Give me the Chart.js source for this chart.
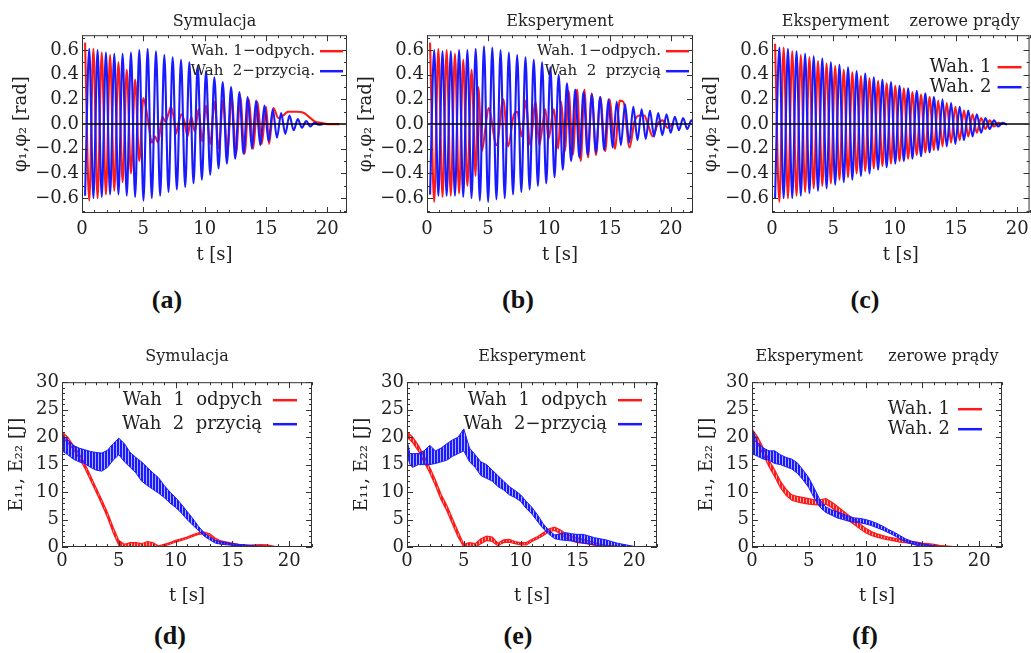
<!DOCTYPE html>
<html>
<head>
<meta charset="utf-8">
<script src="https://cdn.jsdelivr.net/npm/chart.js@4.4.1/dist/chart.umd.min.js"></script>
<style>
body { margin: 0; width: 1031px; height: 653px; overflow: hidden; background: #fff; position: relative; }
canvas { position: absolute; }
.lab { position: absolute; width: 60px; text-align: center; font: bold 26px "Liberation Serif"; color: #111; }
</style>
</head>
<body>
<canvas id="pa" width="350" height="270" style="left:0;top:0"></canvas>
<canvas id="pb" width="350" height="270" style="left:345px;top:0"></canvas>
<canvas id="pc" width="345" height="270" style="left:690px;top:0"></canvas>
<canvas id="pd" width="345" height="290" style="left:0;top:330px"></canvas>
<canvas id="pe" width="345" height="290" style="left:345px;top:330px"></canvas>
<canvas id="pf" width="341" height="290" style="left:690px;top:330px"></canvas>
<div class="lab" style="left:137px;top:285px">(a)</div>
<div class="lab" style="left:488px;top:285px">(b)</div>
<div class="lab" style="left:835px;top:285px">(c)</div>
<div class="lab" style="left:140px;top:621px">(d)</div>
<div class="lab" style="left:488px;top:621px">(e)</div>
<div class="lab" style="left:835px;top:621px">(f)</div>
<script>
// tick labels
const xTicks = [0, 5, 10, 15, 20];
const phiTicks = [-0.6, -0.4, -0.2, 0, 0.2, 0.4, 0.6];
const energyTicks = [0, 5, 10, 15, 20, 25, 30];

// angles: successive swing amplitudes (rad), sign alternates
const halfAB = 0.34, halfC = 0.35;
const blueA = [0.58,0.61,0.6,0.6,0.59,0.58,0.57,0.57,0.57,0.57,0.58,0.58,0.59,0.6,0.62,0.61,0.6,0.59,0.58,0.56,
  0.55,0.54,0.53,0.52,0.51,0.5,0.48,0.47,0.45,0.43,0.41,0.38,0.36,0.34,0.32,0.3,0.28,0.26,0.24,0.22,
  0.2,0.19,0.17,0.15,0.14,0.12,0.11,0.09,0.08,0.07,0.05,0.04,0.03,0.025,0.02,0.01,0.005,0];
const redA = [0.66,0.62,0.61,0.6,0.58,0.57,0.56,0.54,0.5,0.47,0.44,0.4,0.36,0.3];
const redATail = [[5.0,0.21],[5.35,0.05],[5.7,-0.15],[5.95,-0.1],[6.2,-0.15],[6.55,0.06],[6.8,0.02],[7.1,0.1],
  [7.25,0.14],[7.5,0.04],[7.65,-0.08],[7.85,0.0],[8.1,0.08],[8.35,0.02],[8.6,-0.1],[8.9,0.06],[9.2,-0.06],
  [9.5,0.12],[9.8,-0.14],[10.1,0.15],[10.45,-0.16],[10.8,0.18],[11.15,-0.2],[11.5,0.2],[11.85,-0.22],
  [12.2,0.22],[12.55,-0.24],[12.9,0.22],[13.25,-0.24],[13.6,0.2],[13.95,-0.2],[14.3,0.18],[14.65,-0.16],
  [15.0,0.14],[15.25,-0.16],[15.6,0.13],[16.0,0.05],[16.4,0.07],[16.8,0.1],[17.5,0.1],[18.1,0.09],
  [18.6,0.05],[19.0,0.02],[19.5,0.01],[20.0,0],[21.0,0]];

const blueB = [0.57,0.6,0.58,0.59,0.58,0.59,0.58,0.6,0.59,0.6,0.6,0.61,0.62,0.63,0.63,0.62,0.61,0.6,0.6,0.58,
  0.57,0.56,0.55,0.54,0.53,0.52,0.5,0.5,0.48,0.46,0.43,0.4,0.37,0.33,0.3,0.28,0.27,0.26,0.25,0.24,
  0.23,0.22,0.21,0.2,0.19,0.18,0.17,0.16,0.15,0.14,0.13,0.12,0.12,0.11,0.1,0.09,0.09,0.08,0.07,0.06,
  0.05,0.05,0.04,0.03,0.03];
const redB = [0.66,0.63,0.61,0.59,0.6,0.58,0.57,0.56,0.52,0.5,0.44,0.42];
const redBTail = [[4.2,0.3],[4.5,-0.22],[4.8,-0.02],[5.05,0.13],[5.7,-0.17],[6.25,0.2],[6.65,-0.18],[7.1,0.07],
  [7.4,0.1],[7.75,-0.1],[8.1,0.19],[8.45,-0.17],[8.9,0.18],[9.2,-0.17],[9.7,0.12],[9.95,-0.12],[10.4,0.12],
  [10.75,-0.2],[11.0,0.18],[11.3,-0.22],[11.6,0.27],[11.95,-0.25],[12.3,0.28],[12.6,-0.3],[12.9,0.28],
  [13.2,-0.27],[13.5,0.25],[13.85,-0.25],[14.2,0.22],[14.6,-0.22],[14.95,0.2],[15.4,-0.2],[15.8,0.19],
  [16.1,0.18],[16.6,-0.19],[17.0,0.02],[17.4,0.07],[17.8,0.07],[18.1,0.0],[18.5,-0.1],[18.9,0.0],
  [19.3,0.03],[19.7,-0.03],[20.2,0.0]];

const redC = [0.65,0.63,0.62,0.6,0.59,0.58,0.56,0.55,0.54,0.52,0.51,0.5,0.49,0.48,0.47,0.45,0.44,0.43,0.42,0.4,
  0.39,0.38,0.37,0.36,0.35,0.34,0.33,0.32,0.31,0.3,0.29,0.28,0.26,0.25,0.24,0.23,0.22,0.21,0.19,0.18,
  0.17,0.15,0.14,0.13,0.11,0.1,0.08,0.07,0.05,0.04,0.03,0.02,0.01,0];
const blueC = [0.6,0.62,0.6,0.61,0.6,0.59,0.58,0.57,0.56,0.55,0.54,0.53,0.52,0.5,0.49,0.48,0.47,0.46,0.45,0.43,
  0.42,0.41,0.4,0.38,0.37,0.36,0.35,0.34,0.32,0.31,0.3,0.29,0.28,0.27,0.26,0.25,0.23,0.22,0.21,0.2,
  0.18,0.17,0.16,0.14,0.13,0.11,0.1,0.08,0.07,0.05,0.04,0.03,0.02,0.01,0.005];

// energies: [t, upper edge, lower edge] of the noisy band, J
const blueD = [[0,20.5,17.5],[0.5,19.5,16.8],[1,18.5,16],[1.5,18,15.5],[2,17.7,15.2],[2.5,17.4,14.5],[3,17.2,14],
  [3.5,17.1,13.8],[4,17.6,14.5],[4.5,18.8,15.8],[5,19.8,16.8],[5.5,18.8,15.5],[6,17.2,14.5],[6.5,16.3,13.5],
  [7,15.5,12],[7.5,14.5,11.2],[8,13.5,10.5],[8.5,12.6,9.8],[9,11.2,9],[9.5,10,8],[10,9,7.2],[10.5,7.8,6.2],
  [11,6.5,5],[11.5,5.2,4],[12,3.8,3],[12.5,2.6,2],[13,1.8,1.3],[13.5,1.2,0.7],[14,1.0,0.5],[14.5,0.8,0.4],
  [15,0.6,0.3],[15.5,0.5,0.2],[16,0.4,0.15],[16.5,0.3,0.1],[17,0.2,0.05],[17.5,0.15,0.02],[18,0.1,0],
  [18.5,0.05,0],[19,0,0]];
const redD = [[0,21,20],[0.5,20,19],[1,18.5,17.8],[1.5,17,16.2],[2,15.2,14.4],[2.5,13,12.2],[3,10.8,10],
  [3.5,8.6,7.8],[4,6.3,5.4],[4.5,3.6,2.6],[5,1.2,0.3],[5.5,0.5,0],[6,0.8,0],[6.5,0.8,0],[7,0.6,0],[7.5,1,0.2],
  [8,0.8,0],[8.5,0.2,0],[9,0.5,0.2],[9.5,0.8,0.5],[10,1.2,0.9],[10.5,1.5,1.2],[11,1.8,1.5],[11.5,2.2,1.9],
  [12,2.6,2.3],[12.5,2.7,2.4],[13,2.4,2.1],[13.5,1.6,1.2],[14,1.1,0.8],[14.5,0.9,0.6],[15,0.7,0.4],
  [15.5,0.5,0.3],[16,0.4,0.2],[16.5,0.35,0.15],[17,0.4,0.2],[17.5,0.45,0.25],[18,0.4,0.2],[18.5,0.2,0.05],[19,0,0]];
const blueE = [[0,19.5,17],[0.25,17,15],[0.5,17,14.5],[1,17,15],[1.5,17.5,15],[2,18.5,15],[2.5,17.5,15.2],
  [3,18,15.5],[3.5,18.8,15.8],[4,19.5,16.5],[4.5,20,17],[5,21.5,17.5],[5.5,18,15.5],[6,16.8,14.5],[6.5,15.5,13],
  [7,15,12.5],[7.5,14,12],[8,13,11],[8.5,12,10.4],[9,11,9.5],[9.5,10.3,9],[10,9.5,8.3],[10.5,8.3,7],[11,7.2,6],
  [11.5,5.8,4.6],[12,4.2,3.3],[12.5,3,2.3],[13,2.2,1.5],[13.5,2.4,1.3],[14,2.6,1.2],[14.5,2.4,1.1],[15,2.3,0.9],
  [15.5,2.3,0.7],[16,2,0.6],[16.5,1.7,0.4],[17,1.5,0.2],[17.5,1.3,0.1],[18,1,0.05],[18.5,0.7,0],[19,0.5,0],
  [19.5,0.3,0],[20,0.1,0],[20.5,0,0]];
const redE = [[0,21,20],[0.5,20,19],[1,18.5,17.5],[1.5,16.5,15.5],[2,14.5,13.5],[2.5,12.2,11.2],[3,9.6,8.6],
  [3.5,7.6,6.6],[4,5.2,4.2],[4.5,2.8,1.8],[5,0.5,0],[5.5,0.8,0.1],[6,0.6,0],[6.5,1.5,0.6],[7,2,1.2],[7.5,1.8,1],
  [8,0.7,0.2],[8.5,1.3,0.8],[9,1.4,0.9],[9.5,1,0.6],[10,0.8,0.4],[10.5,0.8,0.4],[11,1.4,1],[11.5,1.9,1.5],
  [12,2.6,2.1],[12.5,3.3,2.8],[13,3.6,3],[13.5,3.1,2.4],[14,2.4,1.6],[14.5,1.9,1.1],[15,1.6,0.8],[15.5,1.4,0.7],
  [16,1.1,0.5],[16.5,0.8,0.3],[17,0.5,0.1],[17.5,0.3,0],[18,0.2,0],[18.5,0.1,0],[19,0,0]];
const blueF = [[0,21.5,17],[0.5,19,16.5],[1,18,16],[1.5,17.5,15.8],[2,17.5,15.2],[2.5,16.8,15],[3,16.3,14.6],
  [3.5,16,14.2],[4,15.3,13.4],[4.5,14,12.2],[5,12.6,10.8],[5.5,10.6,8.8],[6,8.5,7.2],[6.5,7.3,6.3],[7,6.8,5.8],
  [7.5,6.4,5.3],[8,6,5],[8.5,5.6,4.7],[9,5.3,4.5],[9.5,5.2,4.4],[10,5,4.2],[10.5,4.7,3.9],[11,4.3,3.5],
  [11.5,3.8,3.1],[12,3.2,2.6],[12.5,2.7,2.1],[13,2.1,1.5],[13.5,1.5,0.9],[14,1.1,0.6],[14.5,0.8,0.3],
  [15,0.6,0.1],[15.5,0.4,0.05],[16,0.25,0],[16.5,0.1,0],[17,0,0]];
const redF = [[0,21.5,20],[0.5,20,18.8],[1,18,16.8],[1.5,15.8,14.6],[2,14,12.8],[2.5,12,10.8],[3,10.5,9.4],
  [3.5,9.5,8.5],[4,9.2,8.2],[4.5,9,8],[5,8.8,7.8],[5.5,8.6,7.7],[6,8.6,7.6],[6.5,8.8,7.8],[7,8.2,7.2],
  [7.5,7.4,6.4],[8,6.6,5.6],[8.5,5.8,4.8],[9,5,4.1],[9.5,4.2,3.3],[10,3.4,2.6],[10.5,2.8,2.1],[11,2.4,1.8],
  [11.5,2.1,1.5],[12,1.8,1.3],[12.5,1.6,1.1],[13,1.4,0.9],[13.5,1.2,0.8],[14,1,0.6],[14.5,0.9,0.5],
  [15,0.7,0.4],[15.5,0.6,0.3],[16,0.5,0.2],[16.5,0.3,0.1],[17,0.2,0.05],[17.5,0.1,0],[18,0,0]];

const RED = '#ff1a1a', BLUE = '#1a1aff', ink = '#222';
const serif = 'DejaVu Serif';

function swing(start, half, sign, amps, tail) {
  const pts = amps.map((a, i) => ({x: start + i * half, y: (i % 2 ? -sign : sign) * a}));
  return pts.concat((tail || []).map(p => ({x: p[0], y: p[1]})));
}
function edge(rows, k) {
  return rows.map(r => ({x: r[0], y: r[k]}));
}
function stripes(id, color) {
  const tile = document.createElement('canvas');
  tile.width = 3; tile.height = 4;
  const g = tile.getContext('2d');
  g.fillStyle = color;
  g.fillRect(0, 0, 2, 4);
  g.globalAlpha = 0.35;
  g.fillRect(2, 0, 1, 4);
  return document.getElementById(id).getContext('2d').createPattern(tile, 'repeat');
}

// frame with inward ticks on all sides + legend inside the plot
function frame(o) {
  return {
    id: 'frame',
    afterDatasetsDraw(chart) {
      const {ctx, chartArea: a, scales: {x, y}} = chart;
      ctx.save();
      ctx.strokeStyle = '#333';
      ctx.lineWidth = 1;
      ctx.strokeRect(a.left + 0.5, a.top + 0.5, a.right - a.left - 1, a.bottom - a.top - 1);
      ctx.beginPath();
      for (let v = 0; v <= x.max + 1e-9; v += 1) {
        const p = Math.round(x.getPixelForValue(v)) + 0.5;
        const len = v % 5 === 0 ? 6 : 3;
        ctx.moveTo(p, a.bottom); ctx.lineTo(p, a.bottom - len);
        ctx.moveTo(p, a.top); ctx.lineTo(p, a.top + len);
      }
      for (let i = Math.ceil(y.min / o.yMinor); i * o.yMinor <= y.max + 1e-9; i++) {
        const v = i * o.yMinor;
        const p = Math.round(y.getPixelForValue(v)) + 0.5;
        const len = i % o.yEvery === 0 ? 6 : 3;
        ctx.moveTo(a.left, p); ctx.lineTo(a.left + len, p);
        ctx.moveTo(a.right, p); ctx.lineTo(a.right - len, p);
      }
      ctx.stroke();
      const L = o.legend;
      ctx.font = L.size + 'px "' + serif + '"';
      ctx.textAlign = 'right';
      ctx.textBaseline = 'middle';
      L.items.forEach((it, i) => {
        const yy = a.top + L.top + i * L.step;
        ctx.fillStyle = ink;
        ctx.fillText(it.text, a.right - L.textRight, yy);
        ctx.strokeStyle = it.color;
        ctx.lineWidth = 2.5;
        ctx.beginPath();
        ctx.moveTo(a.right - L.from, yy);
        ctx.lineTo(a.right - L.to, yy);
        ctx.stroke();
      });
      ctx.restore();
    }
  };
}

function panel(id, o) {
  return new Chart(document.getElementById(id), {
    type: 'line',
    data: {datasets: o.datasets},
    options: {
      responsive: false,
      animation: false,
      events: [],
      layout: {padding: {right: o.padRight}},
      elements: {point: {radius: 0}},
      plugins: {
        legend: {display: false},
        tooltip: {enabled: false},
        title: {
          display: true, text: o.title, fullSize: false, color: ink,
          font: {family: serif, size: 16, weight: 'normal'},
          padding: o.titlePad
        }
      },
      scales: {
        x: {
          type: 'linear', min: 0, max: o.xMax,
          afterBuildTicks: s => { s.ticks = xTicks.map(v => ({value: v})); },
          afterFit: s => { s.height = o.xHeight; },
          grid: {display: false, drawTicks: false},
          border: {display: false},
          ticks: {autoSkip: false, maxRotation: 0, color: ink, font: {family: serif, size: 18}, padding: o.xTickPad},
          title: {display: true, text: 't [s]', color: ink, font: {family: serif, size: 18},
                  padding: {top: 0, bottom: o.xTitlePad}}
        },
        y: {
          type: 'linear', min: o.yMin, max: o.yMax,
          afterBuildTicks: s => { s.ticks = o.yTicks.map(v => ({value: v})); },
          afterFit: s => { s.width = o.yWidth; },
          grid: {display: false, drawTicks: false},
          border: {display: false},
          ticks: {autoSkip: false, color: ink, font: {family: serif, size: 18}, padding: o.yTickPad, callback: o.yFmt},
          title: {display: true, text: o.yTitle, color: ink, font: {family: serif, size: 18},
                  padding: {top: o.yTitlePad, bottom: 0}}
        }
      }
    },
    plugins: [frame(o)]
  });
}

const phiFmt = v => (v < 0 ? '\u2212' : '') + Math.abs(v).toFixed(1);
const eFmt = v => String(v);

function swingSets(xMax, blue, red) {
  return [
    {data: [{x: 0, y: 0}, {x: xMax, y: 0}], borderColor: '#000', borderWidth: 1.5, tension: 0},
    {data: blue, borderColor: BLUE, borderWidth: 2.1, cubicInterpolationMode: 'monotone'},
    {data: red, borderColor: RED, borderWidth: 2.1, cubicInterpolationMode: 'monotone'}
  ];
}
function energySets(id, blue, red) {
  return [
    {data: edge(blue, 1), borderColor: BLUE, borderWidth: 1, fill: false},
    {data: edge(blue, 2), borderColor: BLUE, borderWidth: 1, fill: '-1', backgroundColor: stripes(id, BLUE)},
    {data: edge(red, 1), borderColor: RED, borderWidth: 1.2, fill: false},
    {data: edge(red, 2), borderColor: RED, borderWidth: 1.2, fill: '-1', backgroundColor: stripes(id, RED)}
  ];
}

const topRow = {
  yMin: -0.72, yMax: 0.72, yTicks: phiTicks, yFmt: phiFmt, yMinor: 0.1, yEvery: 2,
  yTitle: '\u03c6\u2081,\u03c6\u2082 [rad]', yWidth: 82, yTickPad: 3, yTitlePad: 11,
  xHeight: 57, xTickPad: 6, xTitlePad: 4, titlePad: {top: 12, bottom: 4}
};
const bottomRow = {
  yMin: 0, yMax: 30, yTicks: energyTicks, yFmt: eFmt, yMinor: 1, yEvery: 5,
  yTitle: 'E\u2081\u2081, E\u2082\u2082 [J]', yWidth: 62, yTickPad: 3, yTitlePad: 7,
  xHeight: 73, xTickPad: 4, xTitlePad: 13, titlePad: {top: 17, bottom: 16}, xMax: 22, padRight: 33
};

panel('pa', Object.assign({}, topRow, {
  title: 'Symulacja', xMax: 21.6, padRight: 3,
  datasets: swingSets(21.6, swing(0.25, halfAB, -1, blueA), swing(0.25, halfAB, 1, redA, redATail)),
  legend: {size: 15, textRight: 32, from: 27, to: 4, top: 16, step: 20,
           items: [{text: 'Wah. 1\u2212odpych.', color: RED}, {text: 'Wah  2\u2212przycią.', color: BLUE}]}
}));
panel('pb', Object.assign({}, topRow, {
  title: 'Eksperyment', xMax: 21.8, padRight: 2,
  datasets: swingSets(21.8, swing(0.25, halfAB, -1, blueB), swing(0.25, halfAB, 1, redB, redBTail)),
  legend: {size: 15, textRight: 32, from: 27, to: 4, top: 16, step: 20,
           items: [{text: 'Wah. 1\u2212odpych.', color: RED}, {text: 'Wah  2  przycią', color: BLUE}]}
}));
panel('pc', Object.assign({}, topRow, {
  title: 'Eksperyment    zerowe prądy', xMax: 21, padRight: 5,
  datasets: swingSets(21, swing(0.25, halfC, -1, blueC), swing(0.25, halfC, 1, redC)),
  legend: {size: 18, textRight: 38, from: 32, to: 8, top: 32, step: 20,
           items: [{text: 'Wah. 1', color: RED}, {text: 'Wah. 2', color: BLUE}]}
}));
panel('pd', Object.assign({}, bottomRow, {
  title: 'Symulacja',
  datasets: energySets('pd', blueD, redD),
  legend: {size: 18, textRight: 50, from: 39, to: 15, top: 18, step: 24,
           items: [{text: 'Wah  1  odpych', color: RED}, {text: 'Wah  2  przycią', color: BLUE}]}
}));
panel('pe', Object.assign({}, bottomRow, {
  title: 'Eksperyment',
  datasets: energySets('pe', blueE, redE),
  legend: {size: 18, textRight: 50, from: 39, to: 15, top: 18, step: 24,
           items: [{text: 'Wah  1  odpych', color: RED}, {text: 'Wah  2\u2212przycią', color: BLUE}]}
}));
panel('pf', Object.assign({}, bottomRow, {
  title: 'Eksperyment     zerowe prądy', padRight: 29,
  datasets: energySets('pf', blueF, redF),
  legend: {size: 18, textRight: 52, from: 44, to: 20, top: 27, step: 20,
           items: [{text: 'Wah. 1', color: RED}, {text: 'Wah. 2', color: BLUE}]}
}));
</script>
</body>
</html>
